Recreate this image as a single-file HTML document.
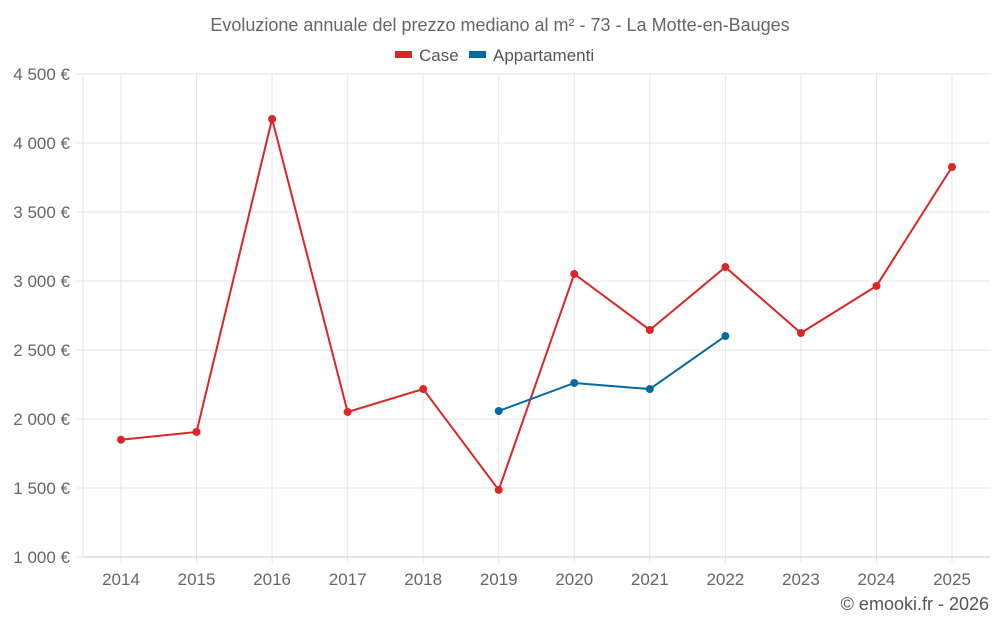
<!DOCTYPE html>
<html><head><meta charset="utf-8"><style>
body{margin:0;background:#fff;width:1000px;height:625px;overflow:hidden;font-family:"Liberation Sans",sans-serif}
</style></head><body>
<svg id="chart" width="1000" height="625" xmlns="http://www.w3.org/2000/svg" font-family="Liberation Sans, sans-serif">
<text x="500" y="31" text-anchor="middle" font-size="18" fill="#666">Evoluzione annuale del prezzo mediano al m² - 73 - La Motte-en-Bauges</text>
<g><rect x="395" y="51" width="17" height="7" fill="#dc2626"/><text x="419" y="61" font-size="17" fill="#555">Case</text></g>
<g><rect x="469" y="51" width="17" height="7" fill="#0369a1"/><text x="493" y="61" font-size="17" fill="#555">Appartamenti</text></g>
<g id="grid"></g><g id="axes"></g><g id="series"></g>
<text x="989" y="610" text-anchor="end" font-size="18" fill="#555">© emooki.fr - 2026</text>
</svg>
<script>
const years=[2014,2015,2016,2017,2018,2019,2020,2021,2022,2023,2024,2025];
const caseValues=[1850,1906,4174,2051,2217,1486,3051,2645,3101,2623,2964,3826];
const apptValues=[null,null,null,null,null,2058,2261,2217,2601,null,null,null];
const yTicks=[1000,1500,2000,2500,3000,3500,4000,4500];
const yLabels=["1 000 €","1 500 €","2 000 €","2 500 €","3 000 €","3 500 €","4 000 €","4 500 €"];
const L=83,R=990,T=74,B=557,NS="http://www.w3.org/2000/svg";
const x0=121,dx=(952-121)/11;
function xs(i){return x0+i*dx;}
function ys(v){return B-(v-1000)/3500*(B-T);}
function mk(tag,attrs,parent,text){const e=document.createElementNS(NS,tag);for(const k in attrs)e.setAttribute(k,attrs[k]);if(text!==undefined)e.textContent=text;document.getElementById(parent).appendChild(e);return e;}
mk('line',{x1:L,x2:L,y1:T,y2:B,stroke:'#e6e6e6'},'grid');
yTicks.forEach((v,i)=>{
 const g=mk('line',{x1:76,x2:R,y1:ys(v),y2:ys(v),stroke:'#e6e6e6'},'grid');
 
 
 const t=mk('text',{x:70,y:ys(v)+6,'text-anchor':'end','font-size':17,fill:'#666'},'axes',yLabels[i]);
 
 
});
years.forEach((y,i)=>{
 const g=mk('line',{x1:xs(i),x2:xs(i),y1:T,y2:B+6,stroke:'#e6e6e6'},'grid');
 
 
 const t=mk('text',{x:xs(i),y:585,'text-anchor':'middle','font-size':17,fill:'#666'},'axes',y);
 
 
});
mk('line',{x1:L,x2:R,y1:B,y2:B,stroke:'#ccc'},'axes');
function series(vals,color,name){
 let d='';vals.forEach((v,i)=>{if(v==null)return;d+=(d?'L':'M')+xs(i)+' '+ys(v);});
 const p=mk('path',{d:d,fill:'none',stroke:color,'stroke-width':2},'series');
 
 
 vals.forEach((v,i)=>{if(v==null)return;
  const c=mk('circle',{cx:xs(i),cy:ys(v),r:4,fill:color},'series');
  
  
 });
}
series(caseValues,'#dc2626','case');
series(apptValues,'#0369a1','appartamenti');
</script>
</body></html>
